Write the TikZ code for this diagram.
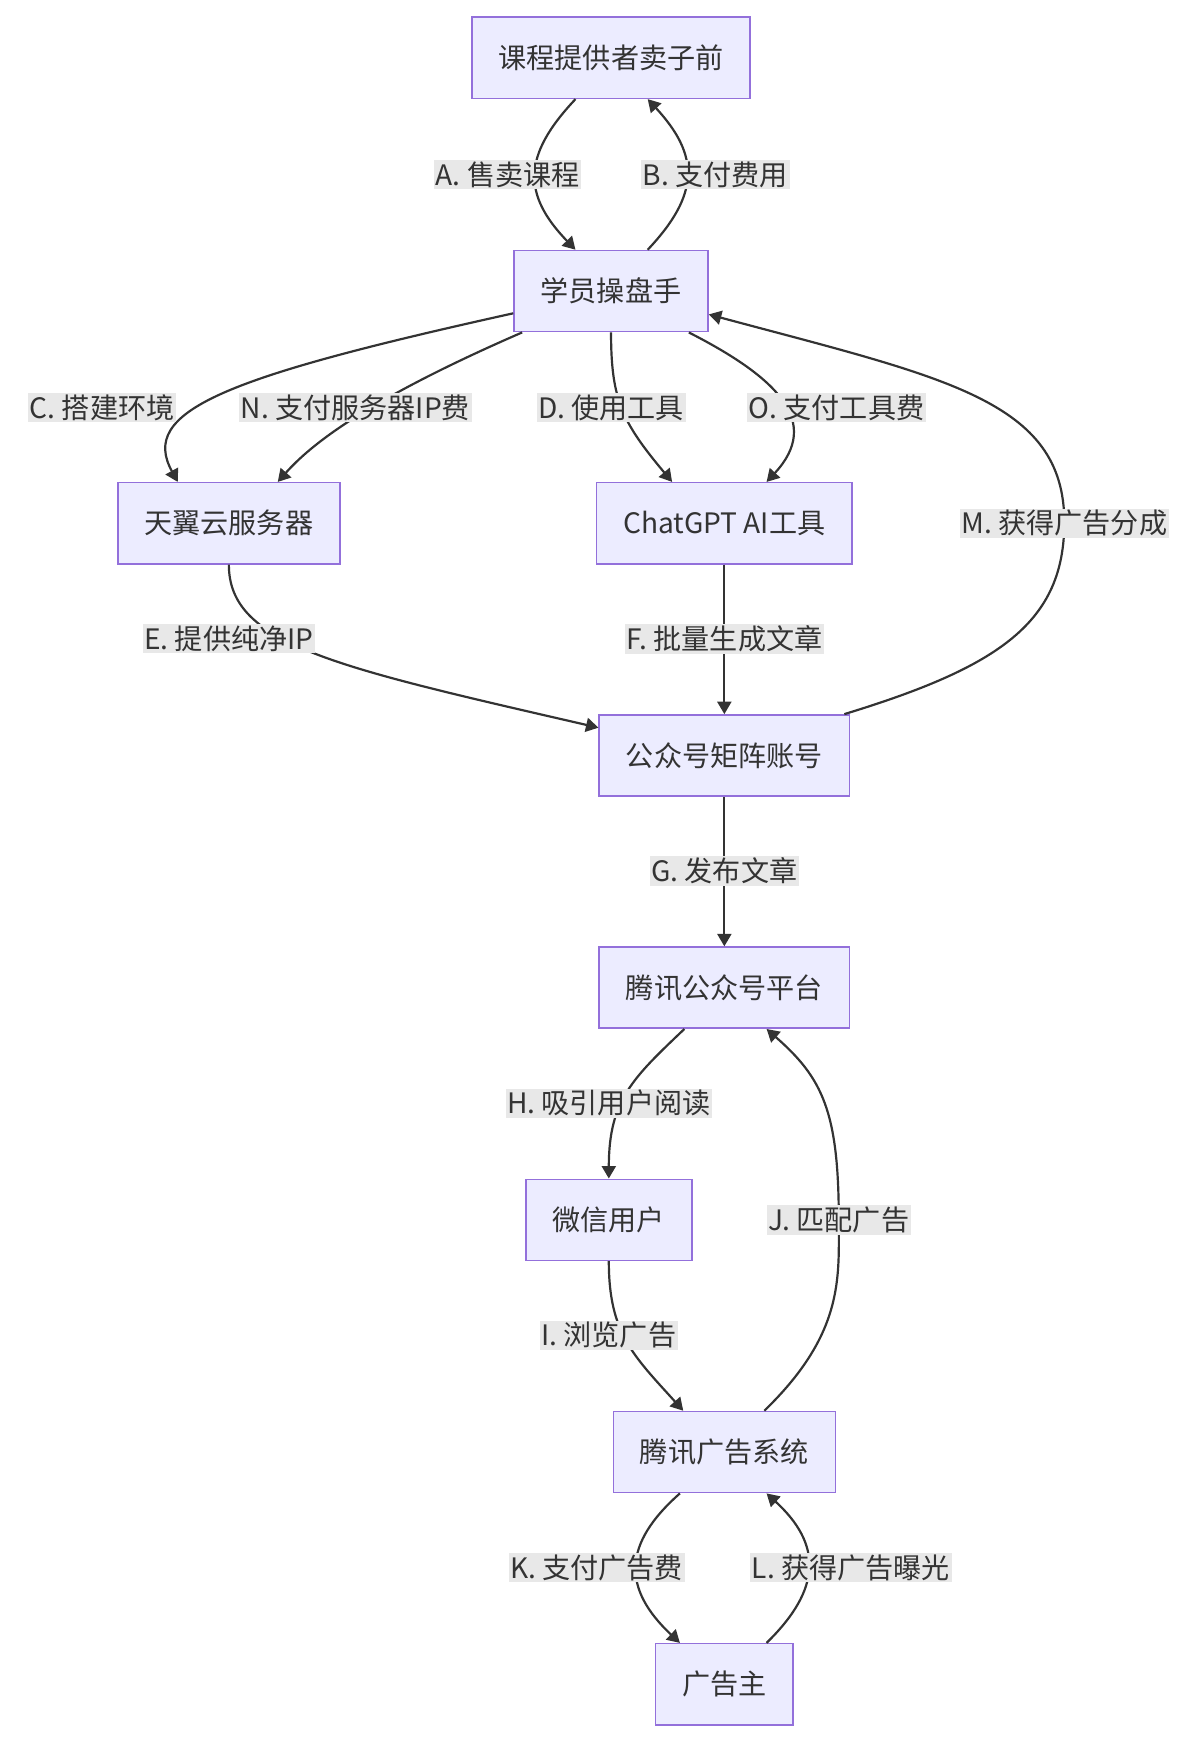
\documentclass[tikz,border=0pt]{standalone}
\usepackage{fontspec}
\setmainfont{Noto Sans CJK SC}
\usetikzlibrary{arrows.meta,calc}

\definecolor{boxfill}{HTML}{ECECFF}
\definecolor{boxline}{HTML}{9370DB}
\definecolor{edge}{HTML}{333333}
\definecolor{lblbg}{HTML}{E8E8E8}

\tikzset{
	box/.style={draw=boxline,fill=boxfill,line width=1pt,minimum height=1.825cm,
		inner xsep=0.6cm,font=\fontsize{18}{20}\selectfont,text=edge},
	lbl/.style={fill=lblbg,inner sep=1pt,font=\fontsize{18}{20}\selectfont,text=edge},
	flow/.style={draw=edge,line width=1.4pt,-{Triangle[length=8pt,width=9pt]}}
}

\begin{document}
\begin{tikzpicture}[x=0.025cm,y=-0.025cm]
\useasboundingbox (0,0) rectangle (1080,1568);

%
% Knoten
%
\node[box] (course) at (550,52) {课程提供者卖子前};
\node[box] (student) at (550,262) {学员操盘手};
\node[box] (cloud) at (206,471) {天翼云服务器};
\node[box] (gpt) at (652,471) {ChatGPT AI工具};
\node[box] (matrix) at (652,680) {公众号矩阵账号};
\node[box] (platform) at (652,889) {腾讯公众号平台};
\node[box] (wxuser) at (548,1098) {微信用户};
\node[box] (adsys) at (652,1307) {腾讯广告系统};
\node[box] (adv) at (652,1516) {广告主};

%
% Verbindungen
%
\draw[flow] ($(course.south)+(-32,0)$) .. controls (470,140) and (470,175) .. ($(student.north)+(-32,0)$);
\draw[flow] ($(student.north)+(33,0)$) .. controls (630,175) and (630,140) .. ($(course.south)+(33,0)$);
\draw[flow] ($(student.west)+(0,20)$) .. controls (200,340) and (125,370) .. ($(cloud.north)+(-46,0)$);
\draw[flow] ($(student.south)+(-80,0)$) .. controls (330,360) and (280,400) .. ($(cloud.north)+(44,0)$);
\draw[flow] (student.south) .. controls (550,360) and (560,380) .. ($(gpt.north)+(-47,0)$);
\draw[flow] ($(student.south)+(70,0)$) .. controls (700,340) and (740,380) .. ($(gpt.north)+(38,0)$);
\draw[flow] ($(matrix.north)+(108,0)$) .. controls (900,600) and (958,560) .. (958,470)
	.. controls (958,360) and (850,340) .. ($(student.east)+(0,21)$);
\draw[flow] (cloud.south) .. controls (206,580) and (300,600) .. ($(matrix.west)+(0,-25)$);
\draw[flow] (gpt.south) -- (matrix.north);
\draw[flow] (matrix.south) -- (platform.north);
\draw[flow] ($(platform.south)+(-36,0)$) .. controls (570,970) and (548,990) .. (wxuser.north);
\draw[flow] ($(adsys.north)+(36,0)$) .. controls (760,1200) and (755,1150) .. (755,1098)
	.. controls (755,1000) and (740,970) .. ($(platform.south)+(38,0)$);
\draw[flow] (wxuser.south) .. controls (548,1200) and (570,1220) .. ($(adsys.north)+(-37,0)$);
\draw[flow] ($(adsys.south)+(-40,0)$) .. controls (560,1390) and (560,1430) .. ($(adv.north)+(-40,0)$);
\draw[flow] ($(adv.north)+(38,0)$) .. controls (740,1430) and (740,1390) .. ($(adsys.south)+(38,0)$);

%
% Beschriftungen
%
\node[lbl] (lA) at (457,157) {A. 售卖课程};
\node[lbl] (lB) at (644,157) {B. 支付费用};
\node[lbl] (lC) at (92,367) {C. 搭建环境};
\node[lbl] (lN) at (320,367) {N. 支付服务器IP费};
\node[lbl] (lD) at (550,367) {D. 使用工具};
\node[lbl] (lO) at (753,367) {O. 支付工具费};
\node[lbl] (lM) at (958,471) {M. 获得广告分成};
\node[lbl] (lE) at (206,575) {E. 提供纯净IP};
\node[lbl] (lF) at (652,575) {F. 批量生成文章};
\node[lbl] (lG) at (652,784) {G. 发布文章};
\node[lbl] (lH) at (548,993) {H. 吸引用户阅读};
\node[lbl] (lJ) at (755,1098) {J. 匹配广告};
\node[lbl] (lI) at (548,1202) {I. 浏览广告};
\node[lbl] (lK) at (537,1411) {K. 支付广告费};
\node[lbl] (lL) at (766,1411) {L. 获得广告曝光};

\end{tikzpicture}
\end{document}
